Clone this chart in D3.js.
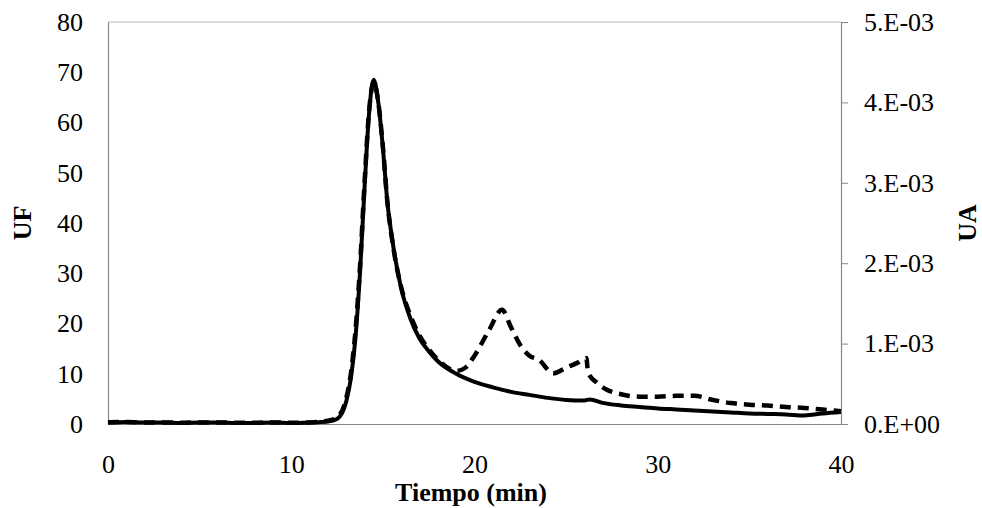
<!DOCTYPE html>
<html><head><meta charset="utf-8">
<script src="https://cdn.jsdelivr.net/npm/d3@7"></script>
<style>body{margin:0;background:#fff}svg{display:block}text{font-family:"Liberation Serif","Times New Roman",serif}</style>
</head><body><svg id="c" width="982" height="508"></svg>
<script>
const timeUF = [0,1,2,3,4,5,6,7,8,9,10,11,12,12.5,13,13.25,13.5,13.75,14,14.25,14.5,14.75,15,15.25,15.5,16,16.5,17,17.5,18,19,20,21,22,23,24,25,26,26.3,27,28,29,30,31,32,33,34,35,36,37,38,39,40];
const valuesUF = [0.3,0.4,0.3,0.3,0.2,0.3,0.3,0.2,0.2,0.3,0.2,0.3,0.5,1.0,4.5,9,17,30,47,62,68.5,64,55,44,37,27,21,17,14.5,12.5,10,8.4,7.3,6.4,5.8,5.2,4.8,4.7,4.9,4.2,3.7,3.4,3.1,2.9,2.7,2.5,2.3,2.1,2.0,1.9,1.7,2.1,2.4];
const timeUA = [0,1,2,3,4,5,6,7,8,9,10,11,12,12.5,13,13.25,13.5,13.75,14,14.25,14.5,14.75,15,15.25,15.5,16,16.5,17,17.5,18,19,19.5,20,20.8,21.5,22,22.5,23,23.5,24.3,25,25.6,26.1,26.2,26.7,27.2,28,29,30,31,32,33,34,35,36,37,38,39,40];
const valuesUA = [0.02,0.025,0.02,0.02,0.015,0.02,0.02,0.015,0.015,0.02,0.015,0.02,0.04,0.08,0.32,0.62,1.15,1.95,3.0,3.9,4.25,4.0,3.45,2.75,2.3,1.7,1.35,1.1,0.93,0.8,0.66,0.7,0.85,1.17,1.42,1.2,0.98,0.85,0.8,0.63,0.7,0.76,0.82,0.64,0.51,0.43,0.37,0.34,0.34,0.35,0.35,0.3,0.26,0.24,0.23,0.21,0.2,0.18,0.16].map(v=>v*1e-3);
const xTicks = [0,10,20,30,40];
const ufTicks = [0,10,20,30,40,50,60,70,80];
const uaTicks = [0,0.001,0.002,0.003,0.004,0.005];
const uaLabels = ["0.E+00","1.E-03","2.E-03","3.E-03","4.E-03","5.E-03"];

const svg = d3.select("#c");
const L=108,R=841,T=22,B=424;
const x = d3.scaleLinear().domain([0,40]).range([L,R]);
const yL = d3.scaleLinear().domain([0,80]).range([B,T]);
const yR = d3.scaleLinear().domain([0,0.005]).range([B,T]);

// frame
svg.append("line").attr("x1",L).attr("x2",R).attr("y1",T).attr("y2",T).attr("stroke","#b8b8b8");
// axes
const gx = svg.append("g").attr("transform",`translate(0,${B})`).call(d3.axisBottom(x).tickValues(xTicks).tickSize(0).tickPadding(32));
const gl = svg.append("g").attr("transform",`translate(${L},0)`).call(d3.axisLeft(yL).tickValues(ufTicks).tickSize(0).tickPadding(25));
const gr = svg.append("g").attr("transform",`translate(${R},0)`).call(d3.axisRight(yR).tickValues(uaTicks).tickSize(7).tickPadding(16).tickFormat((d,i)=>uaLabels[i]));
[gx,gl,gr].forEach(g=>{
  g.select(".domain").attr("stroke","#888").attr("stroke-width",1.2);
  g.selectAll(".tick line").attr("stroke","#888");
  g.selectAll("text").attr("font-size",26).attr("fill","#000").style("font-family","Liberation Serif, serif");
});
gx.selectAll("text").attr("dy","0.35em").attr("y",40);

// lines
const lineUF = d3.line().x((d,i)=>x(timeUF[i])).y(d=>yL(d)).curve(d3.curveMonotoneX);
const lineUA = d3.line().x((d,i)=>x(timeUA[i])).y(d=>yR(d)).curve(d3.curveMonotoneX);
svg.append("path").attr("d",lineUA(valuesUA)).attr("fill","none").attr("stroke","#000").attr("stroke-width",4.5).attr("stroke-dasharray","11,7");
svg.append("path").attr("d",lineUF(valuesUF)).attr("fill","none").attr("stroke","#000").attr("stroke-width",4).attr("stroke-linejoin","round");

// titles
svg.append("text").attr("x",471).attr("y",501).attr("text-anchor","middle").attr("font-size",26).attr("font-weight","bold").text("Tiempo (min)");
svg.append("text").attr("transform","translate(31,223) rotate(-90)").attr("text-anchor","middle").attr("font-size",26).attr("font-weight","bold").text("UF");
svg.append("text").attr("transform","translate(976,223) rotate(-90)").attr("text-anchor","middle").attr("font-size",26).attr("font-weight","bold").text("UA");
</script></body></html>
